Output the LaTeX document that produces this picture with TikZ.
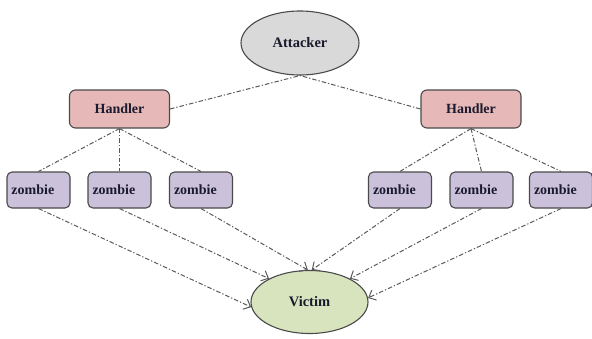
\documentclass[tikz,border=0pt]{standalone}
\usepackage{fontspec}
\setmainfont{Liberation Serif}
\usetikzlibrary{arrows.meta,shapes.geometric}

\definecolor{attackfill}{HTML}{D9D9D9}
\definecolor{handlerfill}{HTML}{E6B9B8}
\definecolor{zombiefill}{HTML}{CCC1DA}
\definecolor{victimfill}{HTML}{D7E4BD}
\definecolor{edgegray}{HTML}{4A4A4A}
\definecolor{linkgray}{HTML}{5A5A5A}
\definecolor{labelink}{HTML}{1A1A2E}

\tikzset{
  boxline/.style={draw=edgegray, line width=1.1pt},
  bignode/.style={boxline, ellipse, inner sep=0pt, font=\fontsize{14.5}{16}\selectfont\bfseries, text=labelink},
  handlerbox/.style={boxline, rectangle, rounded corners=6pt, fill=handlerfill,
    minimum width=100pt, minimum height=38pt, inner sep=0pt,
    font=\fontsize{14}{16}\selectfont\bfseries, text=labelink},
  zombiebox/.style={boxline, rectangle, rounded corners=5pt, fill=zombiefill,
    minimum width=63pt, minimum height=36pt, inner xsep=4.5pt, inner ysep=0pt,
    text width=54pt, align=left,
    font=\fontsize{14}{16}\selectfont\bfseries, text=labelink},
  link/.style={draw=linkgray, line width=1pt, dash pattern=on 4.5pt off 2pt on 1.3pt off 2pt},
  hit/.style={link, -{Straight Barb[length=6pt,width=11pt,line width=1pt]}}
}

\begin{document}
\begin{tikzpicture}[x=1pt, y=1pt, yscale=-1]
  \useasboundingbox (0,0) rectangle (592,338);

  % top and bottom of the tree
  \node[bignode, fill=attackfill, minimum width=118pt, minimum height=64pt] (attacker) at (300,43) {Attacker};
  \node[bignode, fill=victimfill, minimum width=117pt, minimum height=63pt] (victim) at (309.5,302) {Victim};

  % handlers
  \node[handlerbox] (handlerL) at (119.5,109) {\raisebox{-2pt}{Handler}};
  \node[handlerbox] (handlerR) at (471,109) {\raisebox{-2pt}{Handler}};

  % zombies
  \node[zombiebox] (zombie1) at (38.5,190) {zombie};
  \node[zombiebox] (zombie2) at (119.5,190) {zombie};
  \node[zombiebox] (zombie3) at (201,190) {zombie};
  \node[zombiebox] (zombie4) at (400,190) {zombie};
  \node[zombiebox] (zombie5) at (481.5,190) {zombie};
  \node[zombiebox] (zombie6) at (561,190) {zombie};

  % control links
  \path[link] (handlerL.east) -- (attacker.south);
  \path[link] (handlerR.west) -- (attacker.south);
  \foreach \z in {1,2,3}
    \path[link] (handlerL.south) -- (zombie\z.north);
  \foreach \z in {4,5,6}
    \path[link] (handlerR.south) -- (zombie\z.north);

  % flood towards the victim
  \path[hit] (zombie1.south) -- (victim.185);
  \path[hit] (zombie2.south) -- (victim.150);
  \path[hit] (zombie3.south) -- (victim.93);
  \path[hit] (zombie4.south) -- (victim.86);
  \path[hit] (zombie5.south) -- (victim.30);
  \path[hit] (zombie6.south) -- (victim.4);
\end{tikzpicture}
\end{document}
